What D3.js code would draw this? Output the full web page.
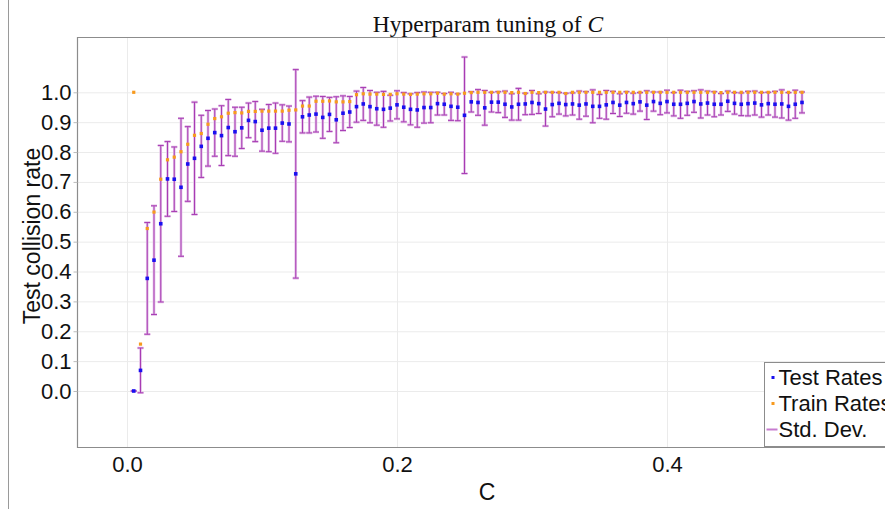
<!DOCTYPE html>
<html>
<head>
<meta charset="utf-8">
<script src="https://cdn.jsdelivr.net/npm/d3@7"></script>
<style>
  body { margin: 0; background: #fff; }
  svg { display: block; }
</style>
</head>
<body>
<svg id="chart" width="885" height="509"></svg>
<script>
// hyperparameter values (x)
var cValues = [
  0.005, 0.010, 0.015, 0.020, 0.025, 0.030, 0.035, 0.040, 0.045, 0.050,
  0.055, 0.060, 0.065, 0.070, 0.075, 0.080, 0.085, 0.090, 0.095, 0.100,
  0.105, 0.110, 0.115, 0.120, 0.125, 0.130, 0.135, 0.140, 0.145, 0.150,
  0.155, 0.160, 0.165, 0.170, 0.175, 0.180, 0.185, 0.190, 0.195, 0.200,
  0.205, 0.210, 0.215, 0.220, 0.225, 0.230, 0.235, 0.240, 0.245, 0.250,
  0.255, 0.260, 0.265, 0.270, 0.275, 0.280, 0.285, 0.290, 0.295, 0.300,
  0.305, 0.310, 0.315, 0.320, 0.325, 0.330, 0.335, 0.340, 0.345, 0.350,
  0.355, 0.360, 0.365, 0.370, 0.375, 0.380, 0.385, 0.390, 0.395, 0.400,
  0.405, 0.410, 0.415, 0.420, 0.425, 0.430, 0.435, 0.440, 0.445, 0.450,
  0.455, 0.460, 0.465, 0.470, 0.475, 0.480, 0.485, 0.490, 0.495, 0.500
];

// test collision rates
var testRates = [
  0.000, 0.069, 0.377, 0.438, 0.560, 0.710, 0.709, 0.682, 0.760, 0.779,
  0.819, 0.846, 0.865, 0.855, 0.882, 0.868, 0.881, 0.906, 0.902, 0.873,
  0.880, 0.880, 0.897, 0.894, 0.727, 0.918, 0.924, 0.927, 0.916, 0.926,
  0.908, 0.930, 0.934, 0.952, 0.961, 0.952, 0.945, 0.943, 0.947, 0.958,
  0.950, 0.943, 0.941, 0.949, 0.949, 0.962, 0.960, 0.953, 0.950, 0.923,
  0.968, 0.966, 0.948, 0.967, 0.967, 0.960, 0.951, 0.960, 0.961, 0.966,
  0.962, 0.944, 0.959, 0.963, 0.959, 0.961, 0.957, 0.961, 0.953, 0.953,
  0.958, 0.966, 0.957, 0.966, 0.962, 0.968, 0.957, 0.969, 0.963, 0.969,
  0.960, 0.960, 0.963, 0.969, 0.961, 0.964, 0.960, 0.960, 0.970, 0.963,
  0.960, 0.962, 0.964, 0.958, 0.962, 0.960, 0.961, 0.953, 0.960, 0.966
];

// train collision rates
var trainRates = [
  1.000, 0.157, 0.544, 0.599, 0.709, 0.774, 0.783, 0.801, 0.826, 0.856,
  0.862, 0.893, 0.912, 0.918, 0.930, 0.932, 0.931, 0.936, 0.936, 0.937,
  0.937, 0.937, 0.937, 0.940, 0.941, 0.954, 0.954, 0.970, 0.970, 0.971,
  0.968, 0.968, 0.969, 0.992, 0.995, 0.994, 0.994, 0.993, 0.993, 0.995,
  0.994, 0.993, 0.994, 0.995, 0.995, 0.997, 0.994, 0.995, 0.994, 0.997,
  0.999, 1.000, 1.000, 1.000, 1.000, 1.000, 0.999, 1.000, 0.996, 1.000,
  0.999, 1.000, 1.000, 1.000, 0.996, 1.000, 1.000, 1.000, 1.000, 1.000,
  1.000, 1.000, 1.000, 1.000, 1.000, 1.000, 1.000, 1.000, 1.000, 1.000,
  1.000, 1.000, 1.000, 1.000, 1.000, 1.000, 1.000, 0.999, 1.000, 1.000,
  1.000, 1.000, 1.000, 1.000, 1.000, 1.000, 1.000, 1.000, 1.000, 1.000
];

// std. dev. of test rate
var stdDev = [
  0.000, 0.075, 0.187, 0.182, 0.262, 0.125, 0.108, 0.231, 0.125, 0.188,
  0.104, 0.093, 0.079, 0.100, 0.094, 0.082, 0.069, 0.058, 0.067, 0.070,
  0.079, 0.084, 0.061, 0.060, 0.349, 0.054, 0.060, 0.060, 0.070, 0.057,
  0.077, 0.058, 0.052, 0.052, 0.055, 0.054, 0.055, 0.060, 0.043, 0.047,
  0.049, 0.052, 0.058, 0.052, 0.051, 0.038, 0.036, 0.047, 0.045, 0.195,
  0.034, 0.043, 0.058, 0.033, 0.035, 0.044, 0.044, 0.053, 0.036, 0.040,
  0.033, 0.057, 0.041, 0.036, 0.038, 0.037, 0.047, 0.041, 0.055, 0.040,
  0.048, 0.037, 0.038, 0.036, 0.035, 0.031, 0.048, 0.032, 0.038, 0.038,
  0.039, 0.047, 0.040, 0.036, 0.047, 0.040, 0.042, 0.036, 0.034, 0.036,
  0.038, 0.041, 0.040, 0.041, 0.038, 0.043, 0.047, 0.046, 0.047, 0.035
];

var yTicks = [0, 0.1, 0.2, 0.3, 0.4, 0.5, 0.6, 0.7, 0.8, 0.9, 1.0];
var xTicks = [0, 0.2, 0.4];
var legendLabels = ["Test Rates", "Train Rates", "Std. Dev."];

var points = cValues.map(function(c, i) {
    return {c: c, test: testRates[i], train: trainRates[i], sd: stdDev[i]};
});

var svg = d3.select("#chart");
var plot = {left: 77, top: 37, right: 900, bottom: 447};

var x = d3.scaleLinear().domain([0, 0.2]).range([127, 397]);
var y = d3.scaleLinear().domain([0, 1]).range([391, 92.3]);

var sans = "'Liberation Sans', Arial, Helvetica, sans-serif";
var errColor = "#a83cb4";

// left edge of the figure
svg.append("line")
    .attr("x1", 8.5).attr("x2", 8.5).attr("y1", 0).attr("y2", 509)
    .attr("stroke", "#9a9a9a").attr("stroke-width", 1);

// grid
svg.append("g")
    .attr("transform", "translate(0," + plot.top + ")")
    .call(d3.axisBottom(x).tickValues(xTicks).tickSize(plot.bottom - plot.top).tickFormat(""))
    .call(function(g) {
        g.select(".domain").remove();
        g.selectAll("line").attr("stroke", "#ebebeb");
    });
svg.append("g")
    .attr("transform", "translate(" + plot.left + ",0)")
    .call(d3.axisRight(y).tickValues(yTicks).tickSize(plot.right - plot.left).tickFormat(""))
    .call(function(g) {
        g.select(".domain").remove();
        g.selectAll("line").attr("stroke", "#ebebeb");
    });

// frame
svg.append("path")
    .attr("d", "M" + plot.right + "," + (plot.top + 0.5) + "H" + (plot.left + 0.5) +
        "V" + (plot.bottom + 0.5) + "H" + plot.right)
    .attr("fill", "none")
    .attr("stroke", "#8c8c8c")
    .attr("stroke-width", 1.2);

// axes
var yAxis = svg.append("g")
    .attr("transform", "translate(" + (plot.left + 0.5) + ",0)")
    .call(d3.axisLeft(y).tickValues(yTicks).tickFormat(d3.format(".1f")).tickSize(4).tickPadding(2));
yAxis.select(".domain").remove();
yAxis.selectAll("line").attr("stroke", "#bbb");
yAxis.selectAll("text").attr("font-family", sans).attr("font-size", 22).attr("fill", "#111");

var xAxis = svg.append("g")
    .attr("transform", "translate(0," + (plot.bottom + 0.5) + ")")
    .call(d3.axisBottom(x).tickValues(xTicks).tickFormat(d3.format(".1f")).tickSize(0).tickPadding(9));
xAxis.select(".domain").remove();
xAxis.selectAll("text").attr("font-family", sans).attr("font-size", 22).attr("fill", "#111");

// labels
svg.append("text")
    .attr("transform", "translate(40,236) rotate(-90)")
    .attr("text-anchor", "middle")
    .attr("font-family", sans).attr("font-size", 23).attr("fill", "#111")
    .text("Test collision rate");

svg.append("text")
    .attr("x", 487).attr("y", 500)
    .attr("text-anchor", "middle")
    .attr("font-family", sans).attr("font-size", 23).attr("fill", "#111")
    .text("C");

var title = svg.append("text")
    .attr("x", 488).attr("y", 32)
    .attr("text-anchor", "middle")
    .attr("font-family", "'Liberation Serif', 'Times New Roman', serif")
    .attr("font-size", 23.5).attr("fill", "#111");
title.append("tspan").text("Hyperparam tuning of ");
title.append("tspan").attr("font-style", "italic").text("C");

// error bars
var bars = svg.append("g").selectAll("g")
    .data(points)
    .enter().append("g");

[[2.6, "#e2bde6"], [1, errColor]].forEach(function(style) {
    bars.append("line")
        .attr("x1", function(d) { return x(d.c); })
        .attr("x2", function(d) { return x(d.c); })
        .attr("y1", function(d) { return y(d.test + d.sd); })
        .attr("y2", function(d) { return y(d.test - d.sd); })
        .attr("stroke", style[1]).attr("stroke-width", style[0]);
    bars.append("path")
        .attr("d", function(d) {
            var cx = x(d.c), t = y(d.test + d.sd), b = y(d.test - d.sd);
            return "M" + (cx - 3) + "," + t + "H" + (cx + 3) + "M" + (cx - 3) + "," + b + "H" + (cx + 3);
        })
        .attr("stroke", style[1]).attr("stroke-width", style[0]);
});

// markers
svg.append("g").selectAll("rect")
    .data(points)
    .enter().append("rect")
        .attr("x", function(d) { return x(d.c) - 1.6; })
        .attr("y", function(d) { return y(d.train) - 1.6; })
        .attr("width", 3.2).attr("height", 3.2)
        .attr("fill", "#f79a1e");

svg.append("g").selectAll("rect")
    .data(points)
    .enter().append("rect")
        .attr("x", function(d) { return x(d.c) - 1.8; })
        .attr("y", function(d) { return y(d.test) - 1.8; })
        .attr("width", 3.6).attr("height", 3.6)
        .attr("fill", "#1a10f0");

// legend
var legend = svg.append("g").attr("transform", "translate(764.5,362.5)");
legend.append("rect")
    .attr("width", 140).attr("height", 84)
    .attr("fill", "#fff").attr("stroke", "#8c8c8c").attr("stroke-width", 1);

var legendRows = legend.selectAll("g")
    .data(legendLabels)
    .enter().append("g")
        .attr("transform", function(d, i) { return "translate(0," + (15 + i * 26) + ")"; });

legendRows.append("text")
    .attr("x", 14).attr("dy", "0.36em")
    .attr("font-family", sans).attr("font-size", 22).attr("fill", "#111")
    .text(function(d) { return d; });

legendRows.filter(function(d, i) { return i < 2; }).append("rect")
    .attr("x", 7).attr("y", -1.5).attr("width", 3).attr("height", 3)
    .attr("fill", function(d, i) { return i === 0 ? "#1a10f0" : "#f79a1e"; });

legendRows.filter(function(d, i) { return i === 2; }).append("line")
    .attr("x1", 2).attr("x2", 13)
    .attr("stroke", "#c77ccf").attr("stroke-width", 2);
</script>
</body>
</html>
